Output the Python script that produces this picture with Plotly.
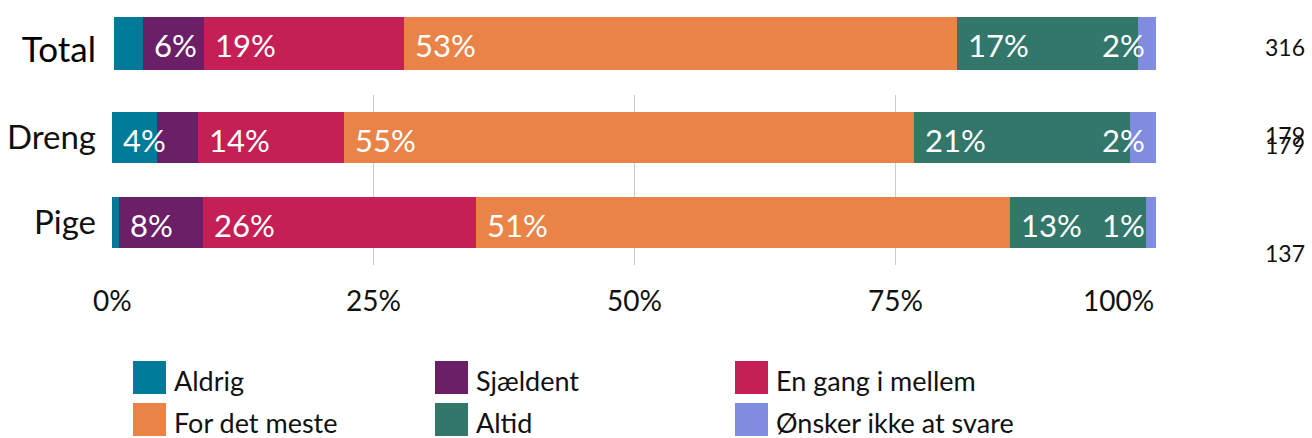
import plotly.graph_objects as go

# ---------------- data ----------------
categories = ["Aldrig", "Sjældent", "En gang i mellem", "For det meste", "Altid", "Ønsker ikke at svare"]
colors = ["#007A99", "#6A1F66", "#C42055", "#E98347", "#32776A", "#7F8CE0"]

total_label = ["Total"]
total_values = [2.8, 5.8, 19.2, 53.1, 17.4, 1.7]

groups = ["Dreng", "Pige"]
dreng_values = [4.3, 3.9, 14.0, 54.6, 20.7, 2.5]
pige_values = [0.7, 8.0, 26.2, 51.1, 13.0, 1.0]

n_total = 316
n_groups = [179, 137]

xtick_vals = [0, 25, 50, 75, 100]
xtick_text = ["0%", "25%", "50%", "75%", "100%"]

# ---------------- helpers ----------------
W, H = 1312, 438
FONT = "Lato, 'Open Sans', sans-serif"


def px_x(x):
    return x / W


def px_y(y):
    return 1 - y / H


fig = go.Figure()

# Total subplot (x, y)
for i, cat in enumerate(categories):
    fig.add_trace(go.Bar(
        y=total_label, x=[total_values[i]], orientation="h",
        marker=dict(color=colors[i], line=dict(width=0)),
        width=0.62, name=cat, showlegend=False,
        xaxis="x", yaxis="y", hoverinfo="skip",
    ))

# Group subplot (x2, y2)
group_values = [dreng_values, pige_values]
for i, cat in enumerate(categories):
    fig.add_trace(go.Bar(
        y=groups, x=[gv[i] for gv in group_values], orientation="h",
        marker=dict(color=colors[i], line=dict(width=0)),
        width=0.6, name=cat, showlegend=False,
        xaxis="x2", yaxis="y2", hoverinfo="skip",
    ))

annotations = []
LABEL_SIZE = 31


def add_labels(vals, ycat, xref, yref):
    cum = 0
    n = len(vals)
    for i, v in enumerate(vals):
        if i == n - 1:
            annotations.append(dict(
                x=min(cum + v, 100) * 0.99999, y=ycat, xref=xref, yref=yref, text=f"{round(v)}%",
                showarrow=False, xanchor="right", yanchor="middle", xshift=-9, yshift=-2,
                font=dict(family=FONT, size=LABEL_SIZE, color="white")))
        elif v >= 4:
            annotations.append(dict(
                x=cum, y=ycat, xref=xref, yref=yref, text=f"{round(v)}%",
                showarrow=False, xanchor="left", yanchor="middle", xshift=9, yshift=-2,
                font=dict(family=FONT, size=LABEL_SIZE, color="white")))
        cum += v


add_labels(total_values, total_label[0], "x", "y")
for g, gv in zip(groups, group_values):
    add_labels(gv, g, "x2", "y2")

# x tick labels: the last one is kept inside the plot's right edge
tick_font = dict(family=FONT, size=28, color="#111")
for tv, tt in zip(xtick_vals, xtick_text):
    last = tv == xtick_vals[-1]
    annotations.append(dict(
        x=tv * (0.99999 if last else 1), y=px_y(300), xref="x2", yref="paper", text=tt,
        showarrow=False, xanchor="right" if last else "center", yanchor="middle",
        font=tick_font))

# n annotations on the right
n_font = dict(family=FONT, size=23, color="#111")
n_items = [(n_total, 47), (n_groups[0], 135), (n_groups[0], 145), (n_groups[1], 253)]
for val, ypx in n_items:
    annotations.append(dict(x=px_x(1285), y=px_y(ypx), xref="paper", yref="paper",
                            text=str(val), showarrow=False,
                            xanchor="center", yanchor="middle", font=n_font))

# manual legend
shapes = []
legend_cols = [133, 435, 735]
legend_rows = [361, 403]
for i, cat in enumerate(categories):
    col = i % 3
    row = i // 3
    x0 = legend_cols[col]
    y0 = legend_rows[row]
    shapes.append(dict(type="rect", xref="paper", yref="paper",
                       x0=px_x(x0), x1=px_x(x0 + 33), y0=px_y(y0 + 33), y1=px_y(y0),
                       fillcolor=colors[i], line=dict(width=0)))
    annotations.append(dict(x=px_x(x0 + 39), y=px_y(y0 + 19), xref="paper", yref="paper",
                            text=cat, showarrow=False, xanchor="left", yanchor="middle",
                            font=dict(family=FONT, size=27, color="#111")))

fig.update_layout(
    template="none",
    width=W, height=H,
    margin=dict(l=0, r=0, t=0, b=0, pad=0),
    paper_bgcolor="white", plot_bgcolor="white",
    barmode="stack", bargap=0,
    font=dict(family=FONT, color="#111"),
    annotations=annotations, shapes=shapes,
    xaxis=dict(domain=[px_x(114), px_x(1156)], range=[0, 100], visible=False,
               fixedrange=True, automargin=False),
    yaxis=dict(domain=[px_y(86), px_y(1)], range=[-0.5, 0.5], showgrid=False,
               zeroline=False, showline=False, ticks="", automargin=False,
               tickfont=dict(family=FONT, size=35, color="#000"),
               ticklabelstandoff=17, ticklabelshift=6, anchor="x"),
    xaxis2=dict(domain=[px_x(112), px_x(1156)], range=[0, 100], showgrid=True,
                gridcolor="#C8CCD1", gridwidth=1, zeroline=False, showline=False,
                tickvals=xtick_vals, showticklabels=False, ticks="", automargin=False,
                anchor="y2"),
    yaxis2=dict(domain=[px_y(265), px_y(95)], range=[1.5, -0.5], showgrid=False,
                zeroline=False, showline=False, ticks="", automargin=False,
                tickfont=dict(family=FONT, size=33, color="#111"),
                ticklabelstandoff=15, anchor="x2"),
)

fig.write_html("out.html")
